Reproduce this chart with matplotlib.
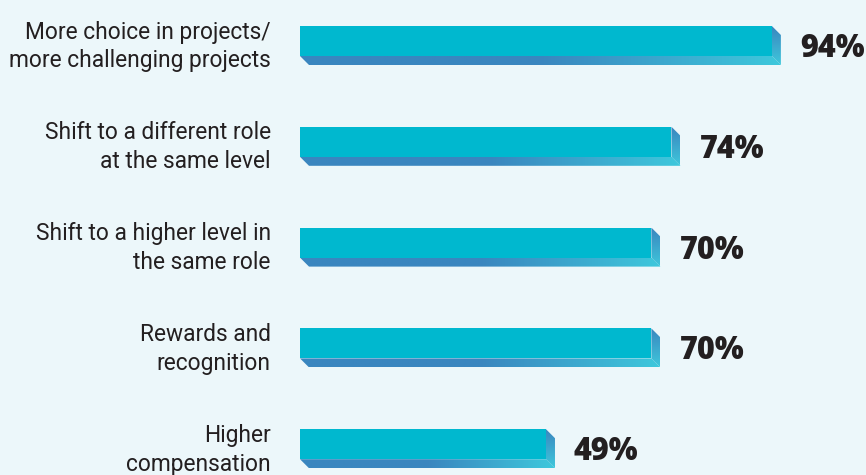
import matplotlib
matplotlib.use('Agg')
import matplotlib.pyplot as plt
from matplotlib.patches import Polygon
from matplotlib.colors import LinearSegmentedColormap
import numpy as np

# Data
categories = ['More choice in projects/\nmore challenging projects',
              'Shift to a different role\nat the same level',
              'Shift to a higher level in\nthe same role',
              'Rewards and\nrecognition',
              'Higher\ncompensation']
values = [94, 74, 70, 70, 49]
value_labels = ['94%', '74%', '70%', '70%', '49%']

# Colors
bg_color = '#ecf7fa'
front_color = '#00b8cf'
dark_edge = '#3a86bf'
light_edge = '#3ec8dc'
text_color = '#231f20'

W, H = 866, 475
fig = plt.figure(figsize=(W / 100, H / 100), dpi=100, facecolor=bg_color)

# axes laid out in pixel terms: bar origin at x=300, 5.02 px per percent
px_per_unit = 5.02
row_px = 100.8
first_center = 41
ax = fig.add_axes([300 / W, 0, 1 - 300 / W, 1])
ax.set_facecolor(bg_color)
for s in ax.spines.values():
    s.set_visible(False)
ax.set_xticks([])

bar_h = 30 / row_px
dx = 9 / px_per_unit   # depth offset
dy = 9 / row_px

ypos = np.arange(len(values))
ax.barh(ypos, values, height=bar_h, color=front_color, zorder=3)

bottom_cmap = LinearSegmentedColormap.from_list('bot', [dark_edge, dark_edge, light_edge], N=256)
side_cmap = LinearSegmentedColormap.from_list('side', [dark_edge, light_edge], N=256)

for y, v in zip(ypos, values):
    top = y - bar_h / 2
    bot = y + bar_h / 2
    # bottom strip (sheared)
    bottom_poly = Polygon([(0, bot), (v, bot), (v + dx, bot + dy), (dx, bot + dy)],
                          closed=True, facecolor='none', edgecolor='none')
    ax.add_patch(bottom_poly)
    grad = np.linspace(0, 1, 256).reshape(1, -1)
    im = ax.imshow(grad, cmap=bottom_cmap, aspect='auto',
                   extent=(0, v + dx, bot + dy, bot), zorder=2, interpolation='bilinear')
    im.set_clip_path(bottom_poly)
    # right side face
    side_poly = Polygon([(v, top), (v + dx, top + dy), (v + dx, bot + dy), (v, bot)],
                        closed=True, facecolor='none', edgecolor='none')
    ax.add_patch(side_poly)
    gradv = np.linspace(0, 1, 256).reshape(-1, 1)
    im2 = ax.imshow(gradv, cmap=side_cmap, aspect='auto',
                    extent=(v, v + dx, bot + dy, top), zorder=2, interpolation='bilinear')
    im2.set_clip_path(side_poly)

# value labels
for y, v, lab in zip(ypos, values, value_labels):
    ax.text(v + 28 / px_per_unit, y + 8 / row_px, lab, ha='left', va='center',
            fontsize=22, fontweight='heavy', color=text_color,
            family=['Open Sans', 'DejaVu Sans'])

# category labels
ax.set_yticks(ypos)
ax.set_yticklabels(categories, fontsize=16.4, color=text_color, linespacing=1.33,
                   family=['Roboto', 'DejaVu Sans'])
ax.tick_params(axis='y', length=0, pad=21)

ax.set_xlim(0, (W - 300) / px_per_unit)
ax.set_ylim((H - first_center) / row_px, -first_center / row_px)

fig.savefig('out.png', dpi=100, facecolor=bg_color)
